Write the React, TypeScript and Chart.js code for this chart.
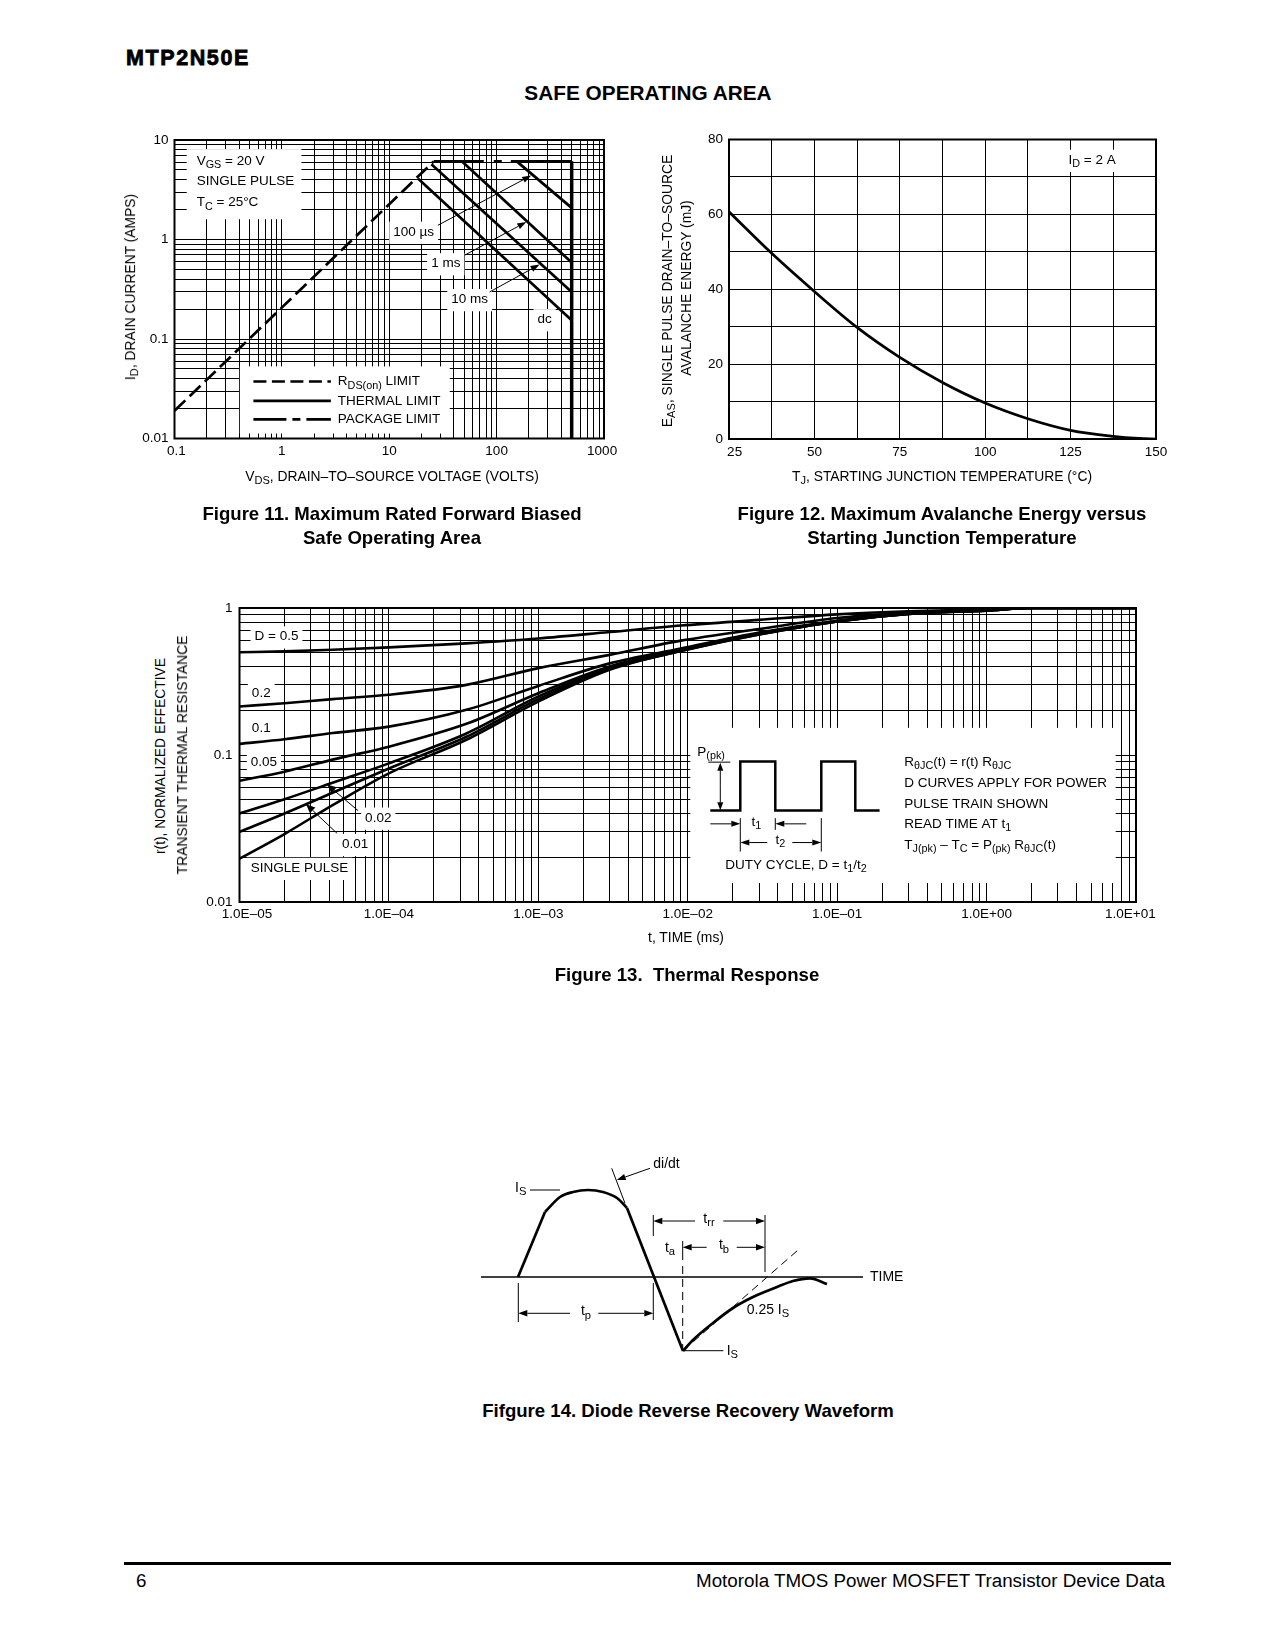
import React, { useEffect, useRef } from "react";
import { Chart, registerables } from "chart.js";

Chart.register(...registerables);

const FONT = "'Liberation Sans', Arial, Helvetica, sans-serif";
const TXT = 13.5;
const TITLE = 13.85;

/* ---------------- Figure 11 : Safe operating area ---------------- */
const SOA_RDS_V = [0.1, 26];
const SOA_RDS_I = [0.019, 6.1];
const SOA_PKG_V = [26, 500];
const SOA_PKG_I = [6.1, 6.1];
const SOA_100US_V = [154, 500];
const SOA_100US_I = [6.1, 2.08];
const SOA_1MS_V = [47.4, 500];
const SOA_1MS_I = [6.1, 0.586];
const SOA_10MS_V = [24.7, 500];
const SOA_10MS_I = [5.7, 0.296];
const SOA_DC_V = [18.5, 500];
const SOA_DC_I = [4.1, 0.154];
const SOA_VMAX_V = [500, 500];
const SOA_VMAX_I = [6.1, 0.01];
const SOA_X_DECADES = [0.1, 1, 10, 100, 1000];
const SOA_X_LABELS = [" 0.1", "1", "10", "100", "1000 "];
const SOA_Y_DECADES = [0.01, 0.1, 1, 10];
const SOA_Y_LABELS = ["0.01", "0.1", "1", "10"];

/* ---------------- Figure 12 : Avalanche energy ---------------- */
const EAS_TJ = [25, 37.5, 50, 62.5, 75, 87.5, 100, 112.5, 125, 137.5, 145, 150];
const EAS_MJ = [60.7, 49.6, 39.4, 29.8, 21.8, 15.1, 9.6, 5.4, 2.3, 0.7, 0.15, 0];
const EAS_X_LABELS = ["   25", "50", "75", "100", "125", "150"];

/* ---------------- Figure 13 : Thermal response ---------------- */
const TR_T = [1e-5, 2e-5, 4.2e-5, 1e-4, 3.3e-4, 1e-3, 3e-3, 9e-3, 3e-2, 1e-1, 3e-1, 1, 2, 10];
const TR_D05 = [0.5, 0.507, 0.52, 0.54, 0.575, 0.62, 0.686, 0.76, 0.83, 0.905, 0.95, 0.98, 1.0, 1.0];
const TR_D02 = [0.214, 0.225, 0.24, 0.257, 0.3, 0.39, 0.48, 0.6, 0.72, 0.855, 0.93, 0.97, 1.0, 1.0];
const TR_D01 = [0.119, 0.128, 0.141, 0.156, 0.203, 0.295, 0.42, 0.53, 0.68, 0.82, 0.92, 0.965, 1.0, 1.0];
const TR_D005 = [0.0668, 0.077, 0.093, 0.114, 0.163, 0.263, 0.4, 0.52, 0.67, 0.815, 0.915, 0.965, 1.0, 1.0];
const TR_D002 = [0.04, 0.05, 0.0648, 0.0877, 0.14, 0.25, 0.39, 0.515, 0.665, 0.81, 0.91, 0.96, 1.0, 1.0];
const TR_D001 = [0.03, 0.04, 0.0554, 0.081, 0.133, 0.24, 0.385, 0.51, 0.66, 0.81, 0.91, 0.96, 1.0, 1.0];
const TR_SINGLE = [0.0197, 0.029, 0.0456, 0.075, 0.127, 0.231, 0.38, 0.51, 0.66, 0.81, 0.91, 0.96, 1.0, 1.0];
const TR_X_DECADES = [1e-5, 1e-4, 1e-3, 1e-2, 1e-1, 1, 10];
const TR_X_LABELS = ["    1.0E–05", "1.0E–04", "1.0E–03", "1.0E–02", "1.0E–01", "1.0E+00", "1.0E+01   "];
const TR_Y_DECADES = [0.01, 0.1, 1];
const TR_Y_LABELS = ["0.01", "0.1", "1"];

/* ---------------- Figure 14 : Diode reverse recovery ---------------- */
const DRR_AXIS_X = [0, 382];
const DRR_AXIS_Y = [0, 0];
const DRR_RISE_X = [37, 64];
const DRR_RISE_Y = [0, 65];
const DRR_ARC_X = [64, 79, 92, 107, 122, 136, 146];
const DRR_ARC_Y = [65, 80, 85, 87, 85, 79, 69];
const DRR_FALL_X = [146, 202];
const DRR_FALL_Y = [69, -74];
const DRR_REC_X = [202, 212, 232, 252, 272, 296, 312, 329, 346];
const DRR_REC_Y = [-74, -63, -46, -31, -20, -10, -4, -1.3, -7];

/* ---------------- helpers ---------------- */
type Seg = [string, boolean?];

function richWidth(ctx: any, segs: Seg[], size: number) {
  let w = 0;
  for (const [t, s] of segs) {
    ctx.font = `${s ? size * 0.8 : size}px ${FONT}`;
    w += ctx.measureText(t).width;
  }
  return w;
}

function drawRich(ctx: any, segs: Seg[], x: number, y: number, size = TXT, align = "left") {
  const w = richWidth(ctx, segs, size);
  let cx = align === "left" ? x : align === "center" ? x - w / 2 : x - w;
  ctx.textBaseline = "middle";
  ctx.textAlign = "left";
  for (const [t, s] of segs) {
    ctx.font = `${s ? size * 0.8 : size}px ${FONT}`;
    ctx.fillText(t, cx, s ? y + size * 0.3 : y);
    cx += ctx.measureText(t).width;
  }
  return w;
}

function boxLabel(ctx: any, segs: Seg[], x: number, y: number, align = "left", size = TXT) {
  const w = richWidth(ctx, segs, size);
  const left = align === "left" ? x : align === "center" ? x - w / 2 : x - w;
  ctx.save();
  ctx.fillStyle = "#fff";
  ctx.fillRect(left - 4, y - size * 0.62 - 2, w + 8, size * 1.35 + 4);
  ctx.restore();
  ctx.fillStyle = "#000";
  drawRich(ctx, segs, left, y, size, "left");
}

function seg(ctx: any, x1: number, y1: number, x2: number, y2: number) {
  ctx.beginPath();
  ctx.moveTo(x1, y1);
  ctx.lineTo(x2, y2);
  ctx.stroke();
}

function arrow(ctx: any, x1: number, y1: number, x2: number, y2: number, len = 9, half = 3.2) {
  const a = Math.atan2(y2 - y1, x2 - x1);
  const bx = x2 - len * Math.cos(a);
  const by = y2 - len * Math.sin(a);
  seg(ctx, x1, y1, bx, by);
  ctx.beginPath();
  ctx.moveTo(x2, y2);
  ctx.lineTo(bx + half * Math.sin(a), by - half * Math.cos(a));
  ctx.lineTo(bx - half * Math.sin(a), by + half * Math.cos(a));
  ctx.closePath();
  ctx.fill();
}

function interpLog(xs: number[], ys: number[], x: number) {
  const lx = Math.log10(x);
  for (let i = 0; i < xs.length - 1; i++) {
    const a = Math.log10(xs[i]);
    const b = Math.log10(xs[i + 1]);
    if (lx >= a && lx <= b) {
      const f = (lx - a) / (b - a);
      return Math.pow(10, Math.log10(ys[i]) + f * (Math.log10(ys[i + 1]) - Math.log10(ys[i])));
    }
  }
  return ys[ys.length - 1];
}

function frame(chart: any, w = 2) {
  const { ctx, chartArea: a } = chart;
  ctx.save();
  ctx.lineWidth = w;
  ctx.strokeStyle = "#000";
  ctx.strokeRect(a.left, a.top, a.right - a.left, a.bottom - a.top);
  ctx.restore();
}

function pts(xs: number[], ys: number[]) {
  return xs.map((x, i) => ({ x, y: ys[i] }));
}

function line(xs: number[], ys: number[], extra: any = {}) {
  return {
    data: pts(xs, ys),
    borderColor: "#000",
    borderWidth: 2.7,
    pointRadius: 0,
    fill: false,
    tension: 0,
    ...extra,
  };
}

const tickFont = { family: FONT, size: TXT };

function logAxis(min: number, max: number, decades: number[], labels: string[], fitSize: number, pad: number, horiz: boolean) {
  const grid: number[] = [];
  for (let i = 0; i < decades.length - 1; i++) for (let m = 1; m <= 9; m++) grid.push(decades[i] * m);
  grid.push(decades[decades.length - 1]);
  return {
    type: "logarithmic",
    min,
    max,
    afterBuildTicks: (s: any) => {
      s.ticks = grid.map((v) => ({ value: v }));
    },
    afterFit: (s: any) => {
      if (horiz) s.height = fitSize;
      else s.width = fitSize;
    },
    ticks: {
      autoSkip: false,
      maxRotation: 0,
      padding: pad,
      color: "#000",
      font: tickFont,
      callback: (v: number) => {
        const k = decades.findIndex((d) => Math.abs(d - v) / d < 1e-6);
        return k >= 0 ? labels[k] : "";
      },
    },
    grid: { color: "#000", lineWidth: 1, drawTicks: false },
    border: { display: false },
  };
}

function baseOptions(padding: any, scales: any) {
  return {
    responsive: false,
    maintainAspectRatio: false,
    animation: false,
    devicePixelRatio: 1,
    events: [],
    layout: { padding },
    plugins: { legend: { display: false }, tooltip: { enabled: false } },
    scales,
  };
}

/* ---------------- Figure 11 config ---------------- */
const soaPlugin = {
  id: "soaAnno",
  beforeDatasetsDraw(chart: any) {
    const { ctx } = chart;
    const X = (v: number) => chart.scales.x.getPixelForValue(v);
    const Y = (v: number) => chart.scales.y.getPixelForValue(v);
    ctx.save();
    ctx.fillStyle = "#fff";
    ctx.fillRect(X(0.13), Y(8.1), X(1.52) - X(0.13), Y(1.6) - Y(8.1));
    ctx.fillRect(X(0.406), Y(0.053), X(36.6) - X(0.406), Y(0.0112) - Y(0.053));
    ctx.fillStyle = "#000";
    drawRich(ctx, [["V"], ["GS", true], [" = 20 V"]], X(0.161), Y(6.15));
    drawRich(ctx, [["SINGLE PULSE"]], X(0.161), Y(3.87));
    drawRich(ctx, [["T"], ["C", true], [" = 25°C"]], X(0.161), Y(2.34));
    boxLabel(ctx, [["100 µs"]], X(16.9), Y(1.19), "center");
    boxLabel(ctx, [["1 ms"]], X(33.6), Y(0.573), "center");
    boxLabel(ctx, [["10 ms"]], X(56.1), Y(0.25), "center");
    boxLabel(ctx, [["dc"]], X(280), Y(0.157), "center");
    // legend
    const lx1 = X(0.543);
    const lx2 = X(2.86);
    const tx = X(3.32);
    ctx.strokeStyle = "#000";
    ctx.lineWidth = 2.7;
    ctx.setLineDash([13, 5.5]);
    seg(ctx, lx1, Y(0.0374), lx2, Y(0.0374));
    ctx.setLineDash([]);
    seg(ctx, lx1, Y(0.0239), lx2, Y(0.0239));
    ctx.setLineDash([33, 6, 8, 6]);
    seg(ctx, lx1, Y(0.0156), lx2, Y(0.0156));
    ctx.setLineDash([]);
    drawRich(ctx, [["R"], ["DS(on)", true], [" LIMIT"]], tx, Y(0.0374));
    drawRich(ctx, [["THERMAL LIMIT"]], tx, Y(0.0239));
    drawRich(ctx, [["PACKAGE LIMIT"]], tx, Y(0.0156));
    ctx.restore();
  },
  afterDatasetsDraw(chart: any) {
    const { ctx } = chart;
    const X = (v: number) => chart.scales.x.getPixelForValue(v);
    const Y = (v: number) => chart.scales.y.getPixelForValue(v);
    ctx.save();
    ctx.strokeStyle = "#000";
    ctx.fillStyle = "#000";
    ctx.lineWidth = 1;
    arrow(ctx, X(28.4), Y(1.39), X(210), Y(4.4));
    arrow(ctx, X(50.3), Y(0.695), X(189), Y(1.5));
    arrow(ctx, X(86), Y(0.297), X(251), Y(0.56));
    ctx.restore();
    frame(chart);
  },
};

function makeSOA() {
  return {
    type: "line",
    data: {
      datasets: [
        line(SOA_RDS_V, SOA_RDS_I, { borderDash: [15, 6] }),
        line(SOA_PKG_V, SOA_PKG_I, { borderDash: [50, 10, 8, 9, 62, 0] }),
        line(SOA_100US_V, SOA_100US_I),
        line(SOA_1MS_V, SOA_1MS_I),
        line(SOA_10MS_V, SOA_10MS_I),
        line(SOA_DC_V, SOA_DC_I),
        line(SOA_VMAX_V, SOA_VMAX_I, { borderWidth: 3.5 }),
      ],
    },
    options: baseOptions(
      { left: 0, top: 20, right: 26, bottom: 0 },
      {
        x: logAxis(0.1, 1000, SOA_X_DECADES, SOA_X_LABELS, 31.5, 5, true),
        y: logAxis(0.01, 10, SOA_Y_DECADES, SOA_Y_LABELS, 64.5, 6, false),
      }
    ),
    plugins: [soaPlugin],
  };
}

/* ---------------- Figure 12 config ---------------- */
const easPlugin = {
  id: "easAnno",
  beforeDatasetsDraw(chart: any) {
    const { ctx } = chart;
    const X = (v: number) => chart.scales.x.getPixelForValue(v);
    const Y = (v: number) => chart.scales.y.getPixelForValue(v);
    ctx.save();
    boxLabel(ctx, [["I"], ["D", true], [" = 2 A"]], X(124.4), Y(74.5), "left");
    ctx.restore();
  },
  afterDatasetsDraw(chart: any) {
    frame(chart);
  },
};

function makeEAS() {
  return {
    type: "line",
    data: {
      datasets: [line(EAS_TJ, EAS_MJ, { cubicInterpolationMode: "monotone" })],
    },
    options: baseOptions(
      { left: 0, top: 19.5, right: 24, bottom: 0 },
      {
        x: {
          type: "linear",
          min: 25,
          max: 150,
          afterFit: (s: any) => {
            s.height = 31;
          },
          ticks: {
            stepSize: 12.5,
            autoSkip: false,
            maxRotation: 0,
            padding: 5,
            color: "#000",
            font: tickFont,
            callback: (v: number) => ((v - 25) % 25 === 0 ? EAS_X_LABELS[(v - 25) / 25] : ""),
          },
          grid: { color: "#000", lineWidth: 1, drawTicks: false },
          border: { display: false },
        },
        y: {
          type: "linear",
          min: 0,
          max: 80,
          afterFit: (s: any) => {
            s.width = 89;
          },
          ticks: {
            stepSize: 10,
            autoSkip: false,
            padding: 6,
            color: "#000",
            font: tickFont,
            callback: (v: number) => (v % 20 === 0 ? String(v) : ""),
          },
          grid: { color: "#000", lineWidth: 1, drawTicks: false },
          border: { display: false },
        },
      }
    ),
    plugins: [easPlugin],
  };
}

/* ---------------- Figure 13 config ---------------- */
const trPlugin = {
  id: "trAnno",
  beforeDatasetsDraw(chart: any) {
    const { ctx } = chart;
    const X = (v: number) => chart.scales.x.getPixelForValue(v);
    const Y = (v: number) => chart.scales.y.getPixelForValue(v);
    ctx.save();
    const bx = X(1.04e-2);
    const by = Y(0.153);
    const bx2 = X(7.31);
    const by2 = Y(0.01346);
    ctx.fillStyle = "#fff";
    ctx.fillRect(bx, by, bx2 - bx, by2 - by);
    ctx.fillStyle = "#000";
    boxLabel(ctx, [["D = 0.5"]], X(1.26e-5), Y(0.638));
    boxLabel(ctx, [["0.2"]], X(1.21e-5), Y(0.265));
    boxLabel(ctx, [["0.1"]], X(1.21e-5), Y(0.153));
    boxLabel(ctx, [["0.05"]], X(1.19e-5), Y(0.0887));
    boxLabel(ctx, [["0.02"]], X(6.93e-5), Y(0.0373));
    boxLabel(ctx, [["0.01"]], X(4.86e-5), Y(0.0247));
    boxLabel(ctx, [["SINGLE PULSE"]], X(1.19e-5), Y(0.017));

    // inset: pulse train legend
    ctx.strokeStyle = "#000";
    ctx.fillStyle = "#000";
    drawRich(ctx, [["P"], ["(pk)", true]], bx + 7, by + 24);
    ctx.lineWidth = 1;
    seg(ctx, bx + 18, by + 34.3, bx + 40, by + 34.3);
    arrow(ctx, bx + 30, by + 58, bx + 30, by + 34.8, 8, 3);
    arrow(ctx, bx + 30, by + 58, bx + 30, by + 82.5, 8, 3);
    ctx.lineWidth = 2.5;
    ctx.beginPath();
    const base = by + 82.7;
    const high = by + 33.7;
    ctx.moveTo(bx + 20, base);
    ctx.lineTo(bx + 50, base);
    ctx.lineTo(bx + 50, high);
    ctx.lineTo(bx + 85, high);
    ctx.lineTo(bx + 85, base);
    ctx.lineTo(bx + 131, base);
    ctx.lineTo(bx + 131, high);
    ctx.lineTo(bx + 165, high);
    ctx.lineTo(bx + 165, base);
    ctx.lineTo(bx + 189.3, base);
    ctx.stroke();
    ctx.lineWidth = 1;
    seg(ctx, bx + 50, by + 90.3, bx + 50, by + 123.7);
    seg(ctx, bx + 85, by + 90.3, bx + 85, by + 102);
    seg(ctx, bx + 131, by + 90.3, bx + 131, by + 123.7);
    arrow(ctx, bx + 20, by + 96, bx + 50, by + 96, 9, 3);
    arrow(ctx, bx + 116, by + 96, bx + 85, by + 96, 9, 3);
    drawRich(ctx, [["t"], ["1", true]], bx + 66, by + 94, TXT, "center");
    arrow(ctx, bx + 77, by + 114.7, bx + 50, by + 114.7, 9, 3);
    arrow(ctx, bx + 102, by + 114.7, bx + 131, by + 114.7, 9, 3);
    drawRich(ctx, [["t"], ["2", true]], bx + 90, by + 112.5, TXT, "center");
    drawRich(ctx, [["DUTY CYCLE, D = t"], ["1", true], ["/t"], ["2", true]], bx + 35, by + 137);
    const rx = bx + 214;
    drawRich(ctx, [["R"], ["θJC", true], ["(t) = r(t) R"], ["θJC", true]], rx, by + 34.5);
    drawRich(ctx, [["D CURVES APPLY FOR POWER"]], rx, by + 55.3);
    drawRich(ctx, [["PULSE TRAIN SHOWN"]], rx, by + 76);
    drawRich(ctx, [["READ TIME AT t"], ["1", true]], rx, by + 96);
    drawRich(
      ctx,
      [["T"], ["J(pk)", true], [" – T"], ["C", true], [" = P"], ["(pk)", true], [" R"], ["θJC", true], ["(t)"]],
      rx,
      by + 117
    );
    ctx.restore();
  },
  afterDatasetsDraw(chart: any) {
    const { ctx } = chart;
    const X = (v: number) => chart.scales.x.getPixelForValue(v);
    const Y = (v: number) => chart.scales.y.getPixelForValue(v);
    ctx.save();
    ctx.strokeStyle = "#000";
    ctx.fillStyle = "#000";
    ctx.lineWidth = 1;
    const t02 = 3.86e-5;
    const t01 = 2.79e-5;
    arrow(ctx, X(6.22e-5), Y(0.0418), X(t02), Y(interpLog(TR_T, TR_D002, t02)), 9, 4);
    arrow(ctx, X(4.5e-5), Y(0.0293), X(t01), Y(interpLog(TR_T, TR_D001, t01)), 9, 4);
    ctx.restore();
    frame(chart);
  },
};

function makeTR() {
  const opt = { cubicInterpolationMode: "monotone", borderWidth: 2.6 };
  return {
    type: "line",
    data: {
      datasets: [
        line(TR_T, TR_D05, opt),
        line(TR_T, TR_D02, opt),
        line(TR_T, TR_D01, opt),
        line(TR_T, TR_D005, opt),
        line(TR_T, TR_D002, opt),
        line(TR_T, TR_D001, opt),
        line(TR_T, TR_SINGLE, opt),
      ],
    },
    options: baseOptions(
      { left: 0, top: 18, right: 44, bottom: 0 },
      {
        x: logAxis(1e-5, 10, TR_X_DECADES, TR_X_LABELS, 33, 4, true),
        y: logAxis(0.01, 1, TR_Y_DECADES, TR_Y_LABELS, 59.5, 7, false),
      }
    ),
    plugins: [trPlugin],
  };
}

/* ---------------- Figure 14 config ---------------- */
const drrPlugin = {
  id: "drrAnno",
  afterDatasetsDraw(chart: any) {
    const { ctx } = chart;
    const X = (v: number) => chart.scales.x.getPixelForValue(v);
    const Y = (v: number) => chart.scales.y.getPixelForValue(v);
    const F = 14;
    ctx.save();
    ctx.strokeStyle = "#000";
    ctx.fillStyle = "#000";
    ctx.lineWidth = 1;
    seg(ctx, X(37.3), Y(-6), X(37.3), Y(-45));
    seg(ctx, X(172.3), Y(62), X(172.3), Y(41));
    seg(ctx, X(172.3), Y(-6), X(172.3), Y(-43));
    seg(ctx, X(284), Y(62), X(284), Y(5));
    seg(ctx, X(201.7), Y(36), X(201.7), Y(17));
    ctx.setLineDash([8, 5]);
    seg(ctx, X(201.7), Y(11), X(201.7), Y(-72));
    seg(ctx, X(212.3), Y(-64.7), X(319), Y(28.7));
    ctx.setLineDash([]);
    arrow(ctx, X(214), Y(56), X(172.3), Y(56));
    arrow(ctx, X(242.3), Y(56), X(284), Y(56));
    drawRich(ctx, [["t"], ["rr", true]], X(228), Y(58), F, "center");
    arrow(ctx, X(225.7), Y(29.7), X(201.7), Y(29.7));
    arrow(ctx, X(255.7), Y(29.7), X(284), Y(29.7));
    drawRich(ctx, [["t"], ["b", true]], X(243), Y(31.5), F, "center");
    drawRich(ctx, [["t"], ["a", true]], X(189), Y(29), F, "center");
    arrow(ctx, X(89), Y(-36.3), X(37.3), Y(-36.3));
    arrow(ctx, X(117.3), Y(-36.3), X(172.3), Y(-36.3));
    drawRich(ctx, [["t"], ["p", true]], X(105), Y(-34.5), F, "center");
    seg(ctx, X(130.7), Y(108.7), X(144), Y(73.7));
    arrow(ctx, X(169), Y(108.7), X(135.7), Y(97));
    drawRich(ctx, [["di/dt"]], X(172.3), Y(113), F);
    drawRich(ctx, [["I"], ["S", true]], X(34), Y(89), F);
    seg(ctx, X(49), Y(87), X(79), Y(87));
    seg(ctx, X(203), Y(-73.7), X(242.3), Y(-73.7));
    drawRich(ctx, [["I"], ["S", true]], X(245.7), Y(-74), F);
    drawRich(ctx, [["0.25 I"], ["S", true]], X(265.7), Y(-33), F);
    drawRich(ctx, [["TIME"]], X(389), Y(0), F);
    ctx.restore();
  },
};

function makeDRR() {
  return {
    type: "line",
    data: {
      datasets: [
        line(DRR_AXIS_X, DRR_AXIS_Y, { borderWidth: 1.6 }),
        line(DRR_RISE_X, DRR_RISE_Y),
        line(DRR_ARC_X, DRR_ARC_Y, { cubicInterpolationMode: "monotone" }),
        line(DRR_FALL_X, DRR_FALL_Y),
        line(DRR_REC_X, DRR_REC_Y, { cubicInterpolationMode: "monotone" }),
      ],
    },
    options: baseOptions(0, {
      x: { type: "linear", min: -11, max: 439, display: false },
      y: { type: "linear", min: -103, max: 137, display: false },
    }),
    plugins: [drrPlugin],
  };
}

/* ---------------- React parts ---------------- */
function ChartBox({ left, top, width, height, build }: any) {
  const ref = useRef<HTMLCanvasElement>(null);
  useEffect(() => {
    const chart = new Chart(ref.current as HTMLCanvasElement, build());
    return () => chart.destroy();
  }, []);
  return (
    <canvas
      ref={ref}
      width={width}
      height={height}
      style={{ position: "absolute", left, top, width, height, display: "block" }}
    />
  );
}

function Sub({ children }: any) {
  return <span style={{ fontSize: "0.8em", position: "relative", top: "0.3em" }}>{children}</span>;
}

function Txt({ x, y, align = "left", size = TITLE, bold = false, rotate = false, style = {}, children }: any) {
  const tx = align === "left" ? "0" : align === "center" ? "-50%" : "-100%";
  const transform = rotate ? "translate(-50%,-50%) rotate(-90deg)" : `translate(${tx},-50%)`;
  return (
    <div
      style={{
        position: "absolute",
        left: x,
        top: y,
        transform,
        whiteSpace: "pre",
        lineHeight: 1,
        fontSize: size,
        fontWeight: bold ? 700 : 400,
        fontFamily: FONT,
        color: "#000",
        ...style,
      }}
    >
      {children}
    </div>
  );
}

export default function App() {
  const CAP = 18.6;
  return (
    <div style={{ position: "absolute", left: 0, top: 0, width: 1275, height: 1650, background: "#fff" }}>
      <Txt x={126} y={59} size={21.5} bold style={{ letterSpacing: 1.6, WebkitTextStroke: "0.8px #000" }}>
        MTP2N50E
      </Txt>
      <Txt x={648} y={93} size={20.8} bold align="center">
        SAFE OPERATING AREA
      </Txt>

      {/* Figure 11 */}
      <ChartBox left={110} top={120} width={520} height={350} build={makeSOA} />
      <Txt x={131} y={287} rotate>
        I<Sub>D</Sub>, DRAIN CURRENT (AMPS)
      </Txt>
      <Txt x={392} y={477} align="center">
        V<Sub>DS</Sub>, DRAIN–TO–SOURCE VOLTAGE (VOLTS)
      </Txt>
      <Txt x={392} y={514} align="center" size={CAP} bold>
        Figure 11. Maximum Rated Forward Biased
      </Txt>
      <Txt x={392} y={538} align="center" size={CAP} bold>
        Safe Operating Area
      </Txt>

      {/* Figure 12 */}
      <ChartBox left={640} top={120} width={540} height={350} build={makeEAS} />
      <Txt x={668} y={291} rotate>
        E<Sub>AS</Sub>, SINGLE PULSE DRAIN–TO–SOURCE
      </Txt>
      <Txt x={687} y={288} rotate>
        AVALANCHE ENERGY (mJ)
      </Txt>
      <Txt x={942} y={477} align="center">
        T<Sub>J</Sub>, STARTING JUNCTION TEMPERATURE (°C)
      </Txt>
      <Txt x={942} y={514} align="center" size={CAP} bold>
        Figure 12. Maximum Avalanche Energy versus
      </Txt>
      <Txt x={942} y={538} align="center" size={CAP} bold>
        Starting Junction Temperature
      </Txt>

      {/* Figure 13 */}
      <ChartBox left={180} top={590} width={1000} height={345} build={makeTR} />
      <Txt x={161} y={756} rotate>
        r(t), NORMALIZED EFFECTIVE
      </Txt>
      <Txt x={183} y={755} rotate>
        TRANSIENT THERMAL RESISTANCE
      </Txt>
      <Txt x={686} y={938} align="center">
        t, TIME (ms)
      </Txt>
      <Txt x={687} y={975} align="center" size={CAP} bold>
        {"Figure 13.  Thermal Response"}
      </Txt>

      {/* Figure 14 */}
      <ChartBox left={470} top={1140} width={450} height={240} build={makeDRR} />
      <Txt x={688} y={1411} align="center" size={CAP} bold>
        Fifgure 14. Diode Reverse Recovery Waveform
      </Txt>

      {/* footer */}
      <div style={{ position: "absolute", left: 124, top: 1561.5, width: 1047, height: 3, background: "#000" }} />
      <Txt x={136} y={1581} size={18.8}>
        6
      </Txt>
      <Txt x={1165} y={1581} size={18.8} align="right">
        Motorola TMOS Power MOSFET Transistor Device Data
      </Txt>
    </div>
  );
}
